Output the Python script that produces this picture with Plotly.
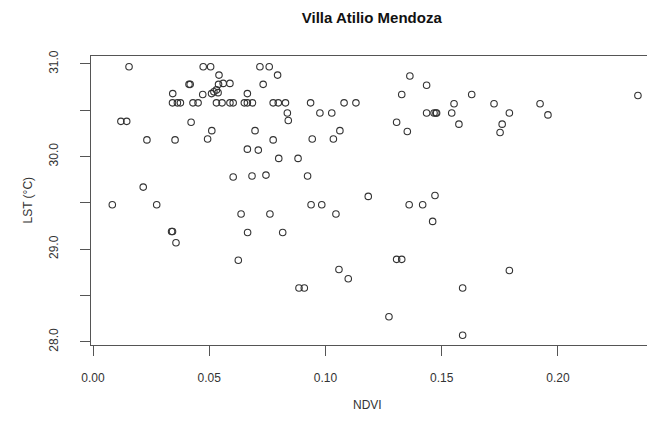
import plotly.graph_objects as go

# NDVI (x) and LST (y) values
ndvi = [
    0.0155, 0.0474, 0.0506, 0.0718, 0.0758,
    0.0542, 0.0794, 0.1363,
    0.0413, 0.0418, 0.0540, 0.0560, 0.0589, 0.0732, 0.1435,
    0.0343, 0.0472, 0.0510, 0.0520, 0.0531, 0.0538, 0.0664, 0.1328, 0.1629, 0.2344,
    0.0342, 0.0363, 0.0376, 0.0430, 0.0452, 0.0531, 0.0555, 0.0589, 0.0603, 0.0651,
    0.0664, 0.0686, 0.0775, 0.0797, 0.0828, 0.0936, 0.1080, 0.1131, 0.1553, 0.1725, 0.1923,
    0.0836, 0.0976, 0.1027, 0.1435, 0.1467, 0.1475, 0.1478, 0.1543, 0.1791, 0.1957,
    0.0120, 0.0145, 0.0422, 0.0840, 0.1306, 0.1574, 0.1760,
    0.0511, 0.0697, 0.1062, 0.1352, 0.1751,
    0.0232, 0.0353, 0.0493, 0.0775, 0.0943, 0.1034,
    0.0664, 0.0711,
    0.0799, 0.0882,
    0.0603, 0.0684, 0.0744, 0.0923,
    0.0216,
    0.1184, 0.1471,
    0.0083, 0.0274, 0.0938, 0.0984, 0.1360, 0.1418,
    0.0637, 0.0761, 0.1045,
    0.1461,
    0.0338, 0.0342, 0.0665, 0.0816,
    0.0357,
    0.0625, 0.1306, 0.1328,
    0.1058, 0.1791,
    0.1098,
    0.0886, 0.0909, 0.1590,
    0.1273,
    0.1590,
]
lst = [
    30.97, 30.97, 30.97, 30.97, 30.97,
    30.88, 30.88, 30.87,
    30.78, 30.78, 30.78, 30.79, 30.79, 30.78, 30.77,
    30.68, 30.67, 30.68, 30.70, 30.72, 30.69, 30.68, 30.67, 30.67, 30.66,
    30.58, 30.58, 30.58, 30.58, 30.58, 30.58, 30.58, 30.58, 30.58, 30.58,
    30.58, 30.58, 30.58, 30.58, 30.58, 30.58, 30.58, 30.58, 30.57, 30.57, 30.57,
    30.47, 30.47, 30.47, 30.47, 30.47, 30.47, 30.47, 30.47, 30.47, 30.45,
    30.38, 30.38, 30.37, 30.39, 30.37, 30.35, 30.35,
    30.28, 30.28, 30.28, 30.27, 30.26,
    30.18, 30.18, 30.19, 30.18, 30.19, 30.19,
    30.08, 30.07,
    29.98, 29.98,
    29.78, 29.79, 29.80, 29.79,
    29.67,
    29.57, 29.58,
    29.48, 29.48, 29.48, 29.48, 29.48, 29.48,
    29.38, 29.38, 29.38,
    29.30,
    29.19, 29.19, 29.18, 29.18,
    29.07,
    28.88, 28.89, 28.89,
    28.78, 28.77,
    28.68,
    28.58, 28.58, 28.58,
    28.27,
    28.07,
]

x_ticks = [0.00, 0.05, 0.10, 0.15, 0.20]
x_ticktext = ["0.00", "0.05", "0.10", "0.15", "0.20"]
y_ticks = [28.0, 28.5, 29.0, 29.5, 30.0, 30.5, 31.0]
y_ticktext = ["28.0", "", "29.0", "", "30.0", "", "31.0"]

FONT = "Liberation Sans, Arial, sans-serif"

fig = go.Figure()
fig.add_trace(go.Scatter(
    x=ndvi, y=lst, mode="markers",
    marker=dict(symbol="circle-open", size=6.5, color="#333333",
                line=dict(width=1.1, color="#333333")),
    showlegend=False, hoverinfo="x+y",
))

fig.update_layout(
    width=647, height=430,
    margin=dict(l=91, r=0, t=56, b=85),
    paper_bgcolor="white", plot_bgcolor="white",
    font=dict(family=FONT, size=12, color="#333333"),
    title=dict(text="<b>Villa Atilio Mendoza</b>", x=0.505, xref="paper",
               xanchor="center", y=1 - 18 / 430, yanchor="middle",
               font=dict(family=FONT, size=15, color="#111111")),
    xaxis=dict(range=[-0.00086, 0.2383], tickvals=x_ticks, ticktext=x_ticktext,
               showgrid=False, zeroline=False, showline=True, mirror=True,
               linecolor="#555555", linewidth=1, ticks="outside", ticklen=10,
               tickcolor="#555555", tickwidth=1, ticklabelstandoff=12,
               tickfont=dict(size=12, color="#333333")),
    yaxis=dict(range=[27.965, 31.086], tickvals=y_ticks, ticktext=y_ticktext,
               showgrid=False, zeroline=False, showline=True, mirror=False,
               linecolor="#555555", linewidth=1, ticks="outside", ticklen=10,
               tickcolor="#555555", tickwidth=1, tickangle=-90,
               ticklabelstandoff=17, tickfont=dict(size=12, color="#333333")),
    annotations=[
        dict(text="NDVI", xref="paper", yref="paper", x=0.498, y=(345 - 405) / 289,
             xanchor="center", yanchor="middle", showarrow=False,
             font=dict(family=FONT, size=12, color="#333333")),
        dict(text="LST (°C)", xref="paper", yref="paper", x=(27 - 91) / 556, y=0.5,
             xanchor="center", yanchor="middle", textangle=-90, showarrow=False,
             font=dict(family=FONT, size=12, color="#333333")),
    ],
)

fig.write_html("out.html")
